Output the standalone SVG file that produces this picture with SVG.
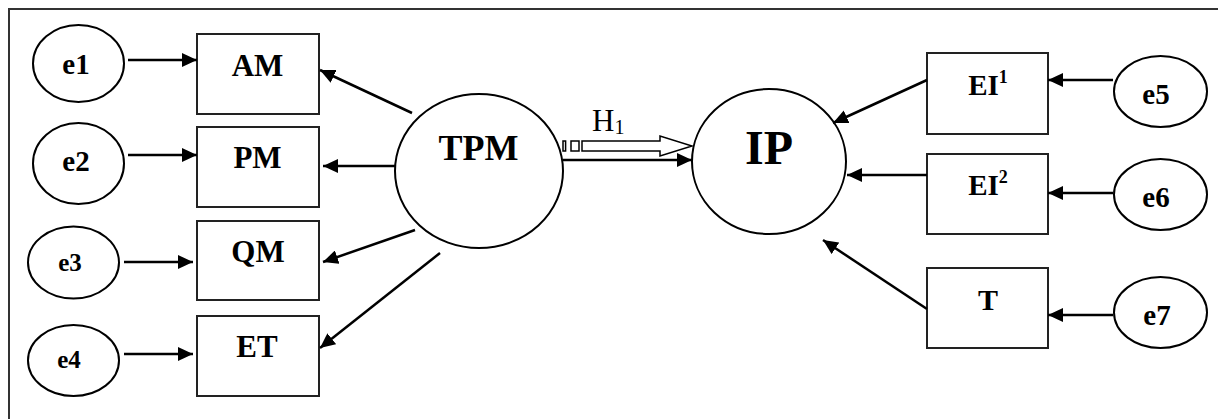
<svg xmlns="http://www.w3.org/2000/svg" width="1218" height="419" viewBox="0 0 1218 419">
<style>
.b{fill:#fff;stroke:#222;stroke-width:2}
.e{fill:#fff;stroke:#000;stroke-width:2}
.t{font-family:"Liberation Serif","Times New Roman",serif;font-weight:bold;fill:#000;text-anchor:middle}
.c line{stroke:#000;stroke-width:2.5;marker-end:url(#ah)}
</style>
<defs>
<marker id="ah" markerUnits="userSpaceOnUse" markerWidth="16" markerHeight="14" refX="15" refY="7" orient="auto">
<path d="M0,0 L15,7 L0,14 z" fill="#000"/>
</marker>
</defs>
<rect x="9" y="9" width="1300" height="500" fill="#fff" stroke="#333" stroke-width="2"/>
<g id="e1"><ellipse class="e" cx="78.5" cy="63.5" rx="45.5" ry="38.5"/><text class="t" x="76" y="74" font-size="29">e1</text></g>
<g id="e2"><ellipse class="e" cx="78.5" cy="163.5" rx="45.5" ry="40.5"/><text class="t" x="76" y="171" font-size="29">e2</text></g>
<g id="e3"><ellipse class="e" cx="73.5" cy="262.5" rx="45.5" ry="36"/><text class="t" x="70" y="271" font-size="25">e3</text></g>
<g id="e4"><ellipse class="e" cx="73.5" cy="360.5" rx="45.5" ry="35.5"/><text class="t" x="69" y="368" font-size="25">e4</text></g>
<g id="AM"><rect class="b" x="197" y="34" width="122" height="80"/><text class="t" x="257.5" y="76" font-size="31">AM</text></g>
<g id="PM"><rect class="b" x="197" y="127" width="122" height="80"/><text class="t" x="257.5" y="168" font-size="31">PM</text></g>
<g id="QM"><rect class="b" x="197" y="221" width="122" height="79"/><text class="t" x="258" y="262" font-size="31">QM</text></g>
<g id="ET"><rect class="b" x="197" y="316" width="122" height="80"/><text class="t" x="257" y="357" font-size="31">ET</text></g>
<g id="TPM"><ellipse class="e" cx="479" cy="171" rx="84" ry="77"/><text class="t" x="478.5" y="160" font-size="36">TPM</text></g>
<g id="IP"><ellipse class="e" cx="769" cy="161.5" rx="77" ry="72.5"/><text class="t" x="769" y="164" font-size="48">IP</text></g>
<g id="EI1"><rect class="b" x="927" y="53" width="121" height="81"/><text class="t" x="988" y="95" font-size="29">EI<tspan font-size="18" dy="-12">1</tspan></text></g>
<g id="EI2"><rect class="b" x="927" y="154" width="121" height="80"/><text class="t" x="988" y="195" font-size="29">EI<tspan font-size="18" dy="-12">2</tspan></text></g>
<g id="T"><rect class="b" x="927" y="268" width="121" height="80"/><text class="t" x="988" y="310" font-size="30">T</text></g>
<g id="e5"><ellipse class="e" cx="1160.5" cy="91.5" rx="46.5" ry="35.5"/><text class="t" x="1156" y="104" font-size="29">e5</text></g>
<g id="e6"><ellipse class="e" cx="1160.5" cy="194.5" rx="46.5" ry="35.5"/><text class="t" x="1156" y="207" font-size="29">e6</text></g>
<g id="e7"><ellipse class="e" cx="1160.5" cy="312.5" rx="46.5" ry="35.5"/><text class="t" x="1157" y="325" font-size="29">e7</text></g>
<g id="connectors" class="c">
<line x1="128" y1="60" x2="197" y2="60"/>
<line x1="128" y1="155" x2="197" y2="155"/>
<line x1="124" y1="262" x2="193" y2="262"/>
<line x1="124" y1="354" x2="193" y2="354"/>
<line x1="412" y1="113" x2="320" y2="70"/>
<line x1="395" y1="166" x2="323" y2="166"/>
<line x1="415" y1="230" x2="323" y2="262"/>
<line x1="440" y1="253" x2="320" y2="348"/>
<line x1="563" y1="160" x2="692" y2="160"/>
<line x1="927" y1="80" x2="833" y2="123"/>
<line x1="927" y1="175" x2="847" y2="175"/>
<line x1="927" y1="309" x2="823" y2="240"/>
<line x1="1113" y1="80" x2="1048" y2="80"/>
<line x1="1113" y1="193" x2="1048" y2="193"/>
<line x1="1113" y1="315" x2="1048" y2="315"/>
</g>
<g id="H1">
<rect x="563" y="141" width="2.6" height="10" fill="#fff" stroke="#000" stroke-width="1.5"/>
<rect x="571" y="141" width="8" height="10" fill="#fff" stroke="#000" stroke-width="1.5"/>
<path d="M582,141 L660,141 L660,136 L692,146 L660,156 L660,151 L582,151 z" fill="#fff" stroke="#000" stroke-width="1.5"/>
<text x="592" y="131" font-family="Liberation Serif,'Times New Roman',serif" font-size="31" fill="#000">H<tspan font-size="20" dy="3">1</tspan></text>
</g>
</svg>
